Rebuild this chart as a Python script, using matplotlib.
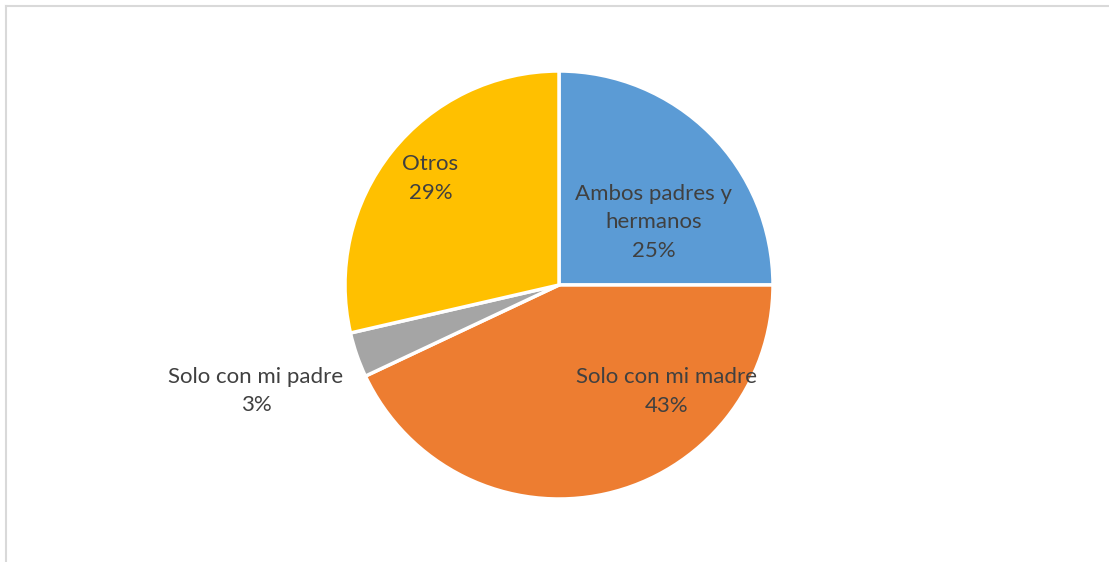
import numpy as np
import matplotlib
matplotlib.use("Agg")
import matplotlib.pyplot as plt

# data (clockwise from 12 o'clock)
categories = ["Ambos padres y\nhermanos", "Solo con mi madre", "Solo con mi padre", "Otros"]
shares = [25.0, 43.0, 3.4, 28.6]
colors = ["#5B9BD5", "#ED7D31", "#A5A5A5", "#FFC000"]

# label placement: (radius fraction, angle in degrees) measured from pie centre
label_pos = [(0.53, 33.5), (0.71, -44.7), (1.50, 199.3), (0.78, 140.4)]

W, H = 1109, 562
fig = plt.figure(figsize=(W / 100, H / 100), dpi=100)
ax = fig.add_axes([0, 0, 1, 1])

cx, cy, r = 559, H - 285, 214

wedges, _ = ax.pie(shares, colors=colors, startangle=90, counterclock=False,
                   center=(cx, cy), radius=r, frame=True,
                   wedgeprops=dict(edgecolor="white", linewidth=2.5))
ax.set_xlim(0, W)
ax.set_ylim(0, H)
ax.set_aspect("equal")
ax.axis("off")

for name, val, (rf, ang) in zip(categories, shares, label_pos):
    a = np.deg2rad(ang)
    x = cx + rf * r * np.cos(a)
    y = cy + rf * r * np.sin(a)
    ax.text(x, y, "%s\n%d%%" % (name, round(val)), ha="center", va="center",
            fontsize=16, color="#404040", family="Lato", linespacing=1.55)

# chart area border (only top and left visible in reference)
fig.add_artist(plt.Line2D([5.5 / W, 1], [1 - 5.5 / H, 1 - 5.5 / H],
                          transform=fig.transFigure, color="#D9D9D9", lw=1.5))
fig.add_artist(plt.Line2D([5.5 / W, 5.5 / W], [0, 1 - 5.5 / H],
                          transform=fig.transFigure, color="#D9D9D9", lw=1.5))

fig.savefig("out.png", dpi=100, facecolor="white")
